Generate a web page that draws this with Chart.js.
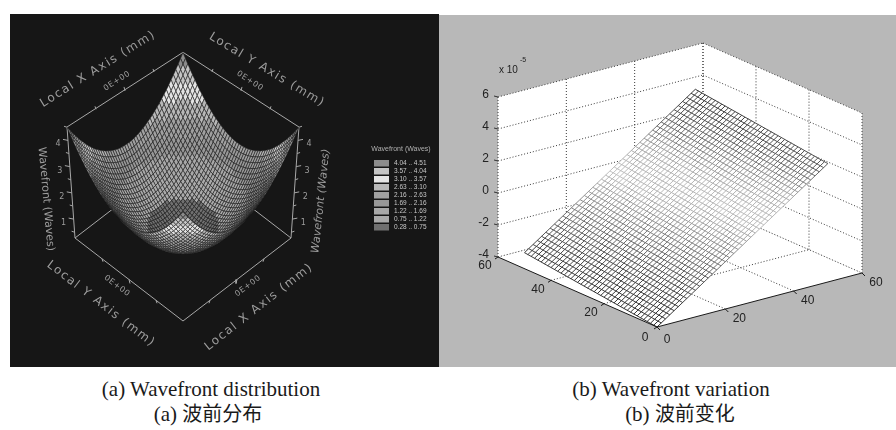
<!DOCTYPE html>
<html>
<head>
<meta charset="utf-8">
<script src="https://cdn.jsdelivr.net/npm/chart.js@4/dist/chart.umd.min.js"></script>
<style>
    html, body { margin: 0; padding: 0; background: #fff; }
    body { position: relative; width: 896px; height: 430px; overflow: hidden; }
    canvas { position: absolute; filter: blur(0.35px); }
    #wavePanel { left: 10px; top: 14px; background: #161616; }
    #variationPanel { left: 439px; top: 15px; background: #b8b8b8; }
    .caption { position: absolute; white-space: nowrap; color: #1a1a1a; transform: translateX(-50%);
        font: 21px "Liberation Serif", serif; line-height: 22px; }
    .caption .cjk { font-family: "Noto Sans CJK SC", sans-serif; font-size: 20px; }
</style>
</head>
<body>
<canvas id="wavePanel" width="429" height="353" style="width:429px;height:353px"></canvas>
<canvas id="variationPanel" width="457" height="352" style="width:457px;height:352px"></canvas>
<div class="caption" style="left:211px;top:378px">(a) Wavefront distribution</div>
<div class="caption" style="left:208px;top:402px">(a) <span class="cjk">波前分布</span></div>
<div class="caption" style="left:671px;top:378px">(b) Wavefront variation</div>
<div class="caption" style="left:680px;top:402px">(b) <span class="cjk">波前变化</span></div>
<script>
// (a) wavefront: height of the surface is waveProfile[i] + waveProfile[j]
const waveProfile = [2.25, 2.08, 1.92, 1.76, 1.61, 1.47, 1.33, 1.20, 1.08, 0.97, 0.86, 0.76, 0.67, 0.58, 0.51, 0.44, 0.38, 0.32, 0.27, 0.23, 0.20, 0.17, 0.15, 0.14, 0.14,
    0.14, 0.15, 0.17, 0.20, 0.23, 0.27, 0.32, 0.38, 0.44, 0.51, 0.58, 0.67, 0.76, 0.86, 0.97, 1.08, 1.20, 1.33, 1.47, 1.61, 1.76, 1.92, 2.08, 2.25];
const waveBandLimits = [0.28, 0.75, 1.22, 1.69, 2.16, 2.63, 3.10, 3.57, 4.04, 4.51];
const waveBandGrays = [112, 170, 168, 152, 160, 184, 228, 196, 140];
const waveTicks = [1, 2, 3, 4];
const legendLabels = ['4.04 .. 4.51', '3.57 .. 4.04', '3.10 .. 3.57', '2.63 .. 3.10', '2.16 .. 2.63', '1.69 .. 2.16', '1.22 .. 1.69', '0.75 .. 1.22', '0.28 .. 0.75'];

// (b) wavefront variation, z in units of 1e-5
const meshAxis = [0, 1.25, 2.5, 3.75, 5, 6.25, 7.5, 8.75, 10, 11.25, 12.5, 13.75, 15, 16.25, 17.5, 18.75, 20, 21.25, 22.5, 23.75, 25,
    26.25, 27.5, 28.75, 30, 31.25, 32.5, 33.75, 35, 36.25, 37.5, 38.75, 40, 41.25, 42.5, 43.75, 45, 46.25, 47.5, 48.75, 50];
const zAlongFrontEdge = [-4, -3.82, -3.63, -3.45, -3.26, -3.08, -2.89, -2.71, -2.52, -2.34, -2.15, -1.97, -1.78, -1.6, -1.41, -1.23, -1.04, -0.86, -0.67, -0.49, -0.3,
    -0.12, 0.07, 0.26, 0.44, 0.63, 0.81, 1, 1.18, 1.37, 1.55, 1.74, 1.92, 2.11, 2.29, 2.48, 2.66, 2.85, 3.03, 3.22, 3.4];
const zAlongBackEdge = [-3, -2.82, -2.63, -2.45, -2.26, -2.08, -1.89, -1.71, -1.52, -1.34, -1.15, -0.97, -0.78, -0.6, -0.41, -0.23, -0.04, 0.14, 0.33, 0.51, 0.7,
    0.88, 1.07, 1.26, 1.44, 1.63, 1.81, 2, 2.18, 2.37, 2.55, 2.74, 2.92, 3.11, 3.29, 3.48, 3.66, 3.85, 4.03, 4.22, 4.4];
const zAlongLeftEdge = [-4, -3.98, -3.95, -3.93, -3.9, -3.88, -3.85, -3.83, -3.8, -3.78, -3.75, -3.73, -3.7, -3.68, -3.65, -3.63, -3.6, -3.58, -3.55, -3.53, -3.5,
    -3.48, -3.45, -3.43, -3.4, -3.38, -3.35, -3.33, -3.3, -3.28, -3.25, -3.23, -3.2, -3.18, -3.15, -3.13, -3.1, -3.08, -3.05, -3.03, -3];
const zAlongRightEdge = [3.4, 3.43, 3.45, 3.48, 3.5, 3.53, 3.55, 3.58, 3.6, 3.63, 3.65, 3.68, 3.7, 3.73, 3.75, 3.78, 3.8, 3.83, 3.85, 3.88, 3.9,
    3.93, 3.95, 3.98, 4, 4.03, 4.05, 4.08, 4.1, 4.13, 4.15, 4.18, 4.2, 4.23, 4.25, 4.28, 4.3, 4.33, 4.35, 4.38, 4.4];
const shadeLevels = [-4, -3, -2, -1, 0, 0.7, 2, 3, 4.4];
const shadeGrays = [45, 60, 85, 125, 165, 195, 165, 95, 55];
const zTicks = [-4, -2, 0, 2, 4, 6];
const floorTicks = [0, 20, 40, 60];

function projectWave(x, y, z) {
    const h = (z - 0.28) / 4.23;
    const dx = 54 * (x + y);
    const dy = 41.5 * (y - x);
    return {
        x: 183 + dx * (1 + 0.074 * h),
        y: 238 + dy * (1 - 0.04 * h) - 106 * h - 5 * h * (dx / 108) * (dx / 108)
    };
}

function projectPlate(x, y, z) {
    return {
        x: 657 + x / 60 * 205 - y / 60 * 159,
        y: 327 - x / 60 * 54 - y / 60 * 70 - (z + 4) * 16
    };
}

function gray(v) {
    return `rgb(${v},${v},${v})`;
}

function shadeFor(z) {
    let i = 0;
    while (i < shadeLevels.length - 2 && z > shadeLevels[i + 1]) i++;
    const t = Math.min(1, Math.max(0, (z - shadeLevels[i]) / (shadeLevels[i + 1] - shadeLevels[i])));
    return Math.round(shadeGrays[i] + t * (shadeGrays[i + 1] - shadeGrays[i]));
}

function polyline(points, color, width, dash) {
    return { data: points, borderColor: color, borderWidth: width || 1, borderDash: dash || [], pointRadius: 0, tension: 0, fill: false, showLine: true };
}

function polygon(points, fillColor, lineColor, width) {
    return { data: points.concat([points[0]]), backgroundColor: fillColor, borderColor: lineColor, borderWidth: width, pointRadius: 0, tension: 0, fill: 'shape', showLine: true };
}

// labels are drawn on the canvas, at pixel positions handed over per chart
const textPlugin = {
    id: 'panelText',
    afterDatasetsDraw(chart, args, opts) {
        const ctx = chart.ctx;
        const xs = chart.scales.x, ys = chart.scales.y;
        if (opts.draw) opts.draw(ctx);
        (opts.items || []).forEach(t => {
            ctx.save();
            ctx.translate(xs.getPixelForValue(t.x), ys.getPixelForValue(t.y));
            ctx.rotate((t.angle || 0) * Math.PI / 180);
            ctx.font = t.font;
            ctx.fillStyle = t.color;
            ctx.letterSpacing = t.spacing || '0px';
            ctx.textAlign = t.align || 'center';
            ctx.textBaseline = 'middle';
            ctx.fillText(t.text, 0, 0);
            ctx.restore();
        });
    }
};

function makeChart(id, datasets, left, top, width, height, textOpts) {
    return new Chart(document.getElementById(id), {
        type: 'scatter',
        data: { datasets: datasets },
        options: {
            responsive: false,
            animation: false,
            events: [],
            layout: { padding: 0 },
            scales: {
                x: { type: 'linear', display: false, min: left, max: left + width },
                y: { type: 'linear', display: false, min: top, max: top + height, reverse: true }
            },
            plugins: { legend: { display: false }, tooltip: { enabled: false }, panelText: textOpts }
        },
        plugins: [textPlugin]
    });
}

// ---- panel (a) ----
function buildWaveDatasets() {
    const paint = [];
    const boxColor = '#a8a8a8';
    const low = 0.28, high = 4.51;
    const edge = (a, b) => paint.push(polyline([a, b], boxColor, 1));
    const left0 = projectWave(-1, -1, low), left1 = projectWave(-1, -1, high);
    const right0 = projectWave(1, 1, low), right1 = projectWave(1, 1, high);
    const back0 = projectWave(1, -1, low), back1 = projectWave(1, -1, high);
    const front0 = projectWave(-1, 1, low);
    edge(left0, left1); edge(right0, right1);
    edge(left1, back1); edge(back1, right1);
    edge(left0, front0); edge(front0, right0);
    edge(left0, back0); edge(back0, right0);

    // ticks along the four visible floor and roof edges
    [-0.5, 0, 0.5].forEach(t => {
        const len = t === 0 ? 4 : 3;
        let a = projectWave(t, -1, high); edge(a, { x: a.x - 1, y: a.y - len });
        a = projectWave(1, t, high); edge(a, { x: a.x + 1, y: a.y - len });
        a = projectWave(-1, t, low); edge(a, { x: a.x + 1, y: a.y + len });
        a = projectWave(t, 1, low); edge(a, { x: a.x - 1, y: a.y + len });
    });
    for (let z = 0.5; z <= 4.5; z += 0.5) {
        const len = Number.isInteger(z) ? 5 : 3;
        let a = projectWave(-1, -1, z); edge(a, { x: a.x - len, y: a.y - 1 });
        a = projectWave(1, 1, z); edge(a, { x: a.x + len, y: a.y - 1 });
    }

    // quads back to front
    const n = waveProfile.length - 1;
    const quads = [];
    for (let i = 0; i < n; i++) {
        for (let j = 0; j < n; j++) quads.push([i, j]);
    }
    quads.sort((a, b) => (a[1] - a[0]) - (b[1] - b[0]));
    quads.forEach(([i, j]) => {
        const corners = [[i, j], [i + 1, j], [i + 1, j + 1], [i, j + 1]];
        let sum = 0;
        const pts = corners.map(([a, b]) => {
            const z = waveProfile[a] + waveProfile[b];
            sum += z;
            return projectWave(a / n * 2 - 1, b / n * 2 - 1, z);
        });
        const mean = sum / 4;
        let band = 0;
        while (band < waveBandGrays.length - 1 && mean > waveBandLimits[band + 1]) band++;
        paint.push(polygon(pts, gray(waveBandGrays[band]), '#1c1c1c', 0.55));
    });
    return paint.reverse(); // chart.js paints dataset 0 last
}

function waveLabels() {
    const items = [];
    const stroke = '#9c9c9c';
    const axisFont = '12px "DejaVu Sans", sans-serif';
    const sideFont = '11px "DejaVu Sans", sans-serif';
    const add = (text, x, y, angle, font, spacing, color) => items.push({ text, x, y, angle, font, spacing, color: color || stroke });
    add('Local X Axis (mm)', 98, 69, -32, axisFont, '1.5px');
    add('Local Y Axis (mm)', 267, 70, 31, axisFont, '1.5px');
    add('Local Y Axis (mm)', 101, 304, 37.5, axisFont, '1.5px');
    add('Local X Axis (mm)', 259, 307, -38, axisFont, '1.5px');
    add('Wavefront (Waves)', 46, 199, 85, sideFont, '0px');
    add('Wavefront (Waves)', 321, 201, -84, 'italic ' + sideFont, '0px');
    const tickFont = '8px "DejaVu Sans", sans-serif';
    add('0E+00', 117, 81, -33, tickFont, '0.6px');
    add('0E+00', 250, 81, 33, tickFont, '0.6px');
    add('0E+00', 117, 286, 37, tickFont, '0.6px');
    add('0E+00', 248, 286, -37, tickFont, '0.6px');
    waveTicks.forEach(v => {
        const l = projectWave(-1, -1, v), r = projectWave(1, 1, v);
        add(String(v), l.x - 10, l.y + 4, 0, tickFont);
        add(String(v), r.x + 11, r.y + 4, 0, tickFont);
    });
    add('Wavefront (Waves)', 401, 149, 0, '7px "Liberation Sans", sans-serif', '0px', '#b0b0b0');
    legendLabels.forEach((label, i) => {
        items.push({ text: label, x: 394, y: 163 + i * 8, font: '6.5px "Liberation Sans", sans-serif', color: '#c8c8c8', align: 'left' });
    });
    return items;
}

function drawWaveLegend(ctx) {
    // swatch colours follow the bands, highest first
    legendLabels.forEach((label, i) => {
        ctx.fillStyle = gray(waveBandGrays[waveBandGrays.length - 1 - i]);
        ctx.fillRect(374 - 10, 160 + i * 8 - 14, 15, 6.5);
    });
}

// ---- panel (b) ----
function wallLine(a, b, dark) {
    return polyline([a, b], dark || '#3a3a3a', 1, [1, 2]);
}

function buildPlateDatasets(ctx) {
    const top = [];
    const zLow = -4, zHigh = 6;
    const P = projectPlate;
    top.push(polygon([P(0, 60, zLow), P(60, 60, zLow), P(60, 60, zHigh), P(0, 60, zHigh)], '#fff', '#fff', 0));
    top.push(polygon([P(60, 60, zLow), P(60, 0, zLow), P(60, 0, zHigh), P(60, 60, zHigh)], '#fff', '#fff', 0));
    top.push(polygon([P(0, 0, zLow), P(0, 60, zLow), P(60, 60, zLow), P(60, 0, zLow)], '#fff', '#fff', 0));

    zTicks.forEach(z => {
        top.push(wallLine(P(0, 60, z), P(60, 60, z)));
        top.push(wallLine(P(60, 60, z), P(60, 0, z)));
    });
    floorTicks.slice(1).forEach(v => {
        top.push(wallLine(P(v, 60, zLow), P(v, 60, zHigh)));
        top.push(wallLine(P(60, v, zLow), P(60, v, zHigh)));
        if (v < 60) {
            top.push(wallLine(P(v, 0, zLow), P(v, 60, zLow)));
            top.push(wallLine(P(0, v, zLow), P(60, v, zLow)));
        }
    });
    top.push(wallLine(P(0, 60, zLow), P(0, 60, zHigh)));

    // the plate itself
    const last = meshAxis.length - 1;
    const xEnd = meshAxis[last];
    top.push(polygon([P(0, 0, zAlongFrontEdge[0]), P(xEnd, 0, zAlongFrontEdge[last]), P(xEnd, xEnd, zAlongBackEdge[last]), P(0, xEnd, zAlongBackEdge[0])], '#fff', '#fff', 0));

    meshAxis.forEach((v, i) => {
        // constant x: z hardly changes along the line
        const a = P(v, 0, zAlongFrontEdge[i]), b = P(v, xEnd, zAlongBackEdge[i]);
        const gradA = ctx.createLinearGradient(a.x - 439, a.y - 15, b.x - 439, b.y - 15);
        gradA.addColorStop(0, gray(shadeFor(zAlongFrontEdge[i])));
        gradA.addColorStop(1, gray(shadeFor(zAlongBackEdge[i])));
        top.push(polyline([a, b], gradA, 1));
    });
    meshAxis.forEach((v, j) => {
        const a = P(0, v, zAlongLeftEdge[j]), b = P(xEnd, v, zAlongRightEdge[j]);
        const grad = ctx.createLinearGradient(a.x - 439, a.y - 15, b.x - 439, b.y - 15);
        const steps = 10;
        for (let s = 0; s <= steps; s++) {
            const z = zAlongLeftEdge[j] + (zAlongRightEdge[j] - zAlongLeftEdge[j]) * s / steps;
            grad.addColorStop(s / steps, gray(shadeFor(z)));
        }
        top.push(polyline([a, b], grad, 1));
    });

    // axes and ticks on top
    top.push(polyline([P(0, 60, zLow), P(0, 0, zLow), P(60, 0, zLow)], '#1a1a1a', 1));
    floorTicks.forEach(v => {
        let a = P(v, 0, zLow); top.push(polyline([a, { x: a.x + 3, y: a.y + 3 }], '#1a1a1a', 1));
        a = P(0, v, zLow); top.push(polyline([a, { x: a.x - 3, y: a.y + 2 }], '#1a1a1a', 1));
    });
    zTicks.forEach(z => {
        const a = P(0, 60, z);
        top.push(polyline([a, { x: a.x - 4, y: a.y - 1 }], '#333', 1));
    });
    top.push(wallLine(P(60, 0, zLow), P(60, 0, zHigh)));
    return top.reverse();
}

function plateLabels() {
    const font = '12px "Liberation Sans", sans-serif';
    const color = '#222';
    const items = [];
    const P = projectPlate;
    zTicks.forEach(z => {
        const a = P(0, 60, z);
        items.push({ text: String(z), x: a.x - 9, y: a.y - 2, font, color, align: 'right' });
    });
    floorTicks.forEach(v => {
        const ax = P(v, 0, -4), ay = P(0, v, -4);
        items.push({ text: String(v), x: ax.x + (v === 0 ? 10 : 14), y: ax.y + (v === 0 ? 13 : 10), font, color });
        items.push({ text: String(v), x: ay.x - (v === 0 ? 12 : 13), y: ay.y + (v === 0 ? 11 : 9), font, color });
    });
    items.push({ text: 'x 10', x: 499, y: 70, font: '10px "Liberation Sans", sans-serif', color, align: 'left' });
    items.push({ text: '-5', x: 520, y: 60, font: '7px "Liberation Sans", sans-serif', color, align: 'left' });
    return items;
}

Chart.defaults.font.family = '"Liberation Sans", sans-serif';
makeChart('wavePanel', buildWaveDatasets(), 10, 14, 429, 353, { items: waveLabels(), draw: drawWaveLegend });
makeChart('variationPanel', buildPlateDatasets(document.getElementById('variationPanel').getContext('2d')), 439, 15, 457, 352, { items: plateLabels() });
</script>
</body>
</html>
